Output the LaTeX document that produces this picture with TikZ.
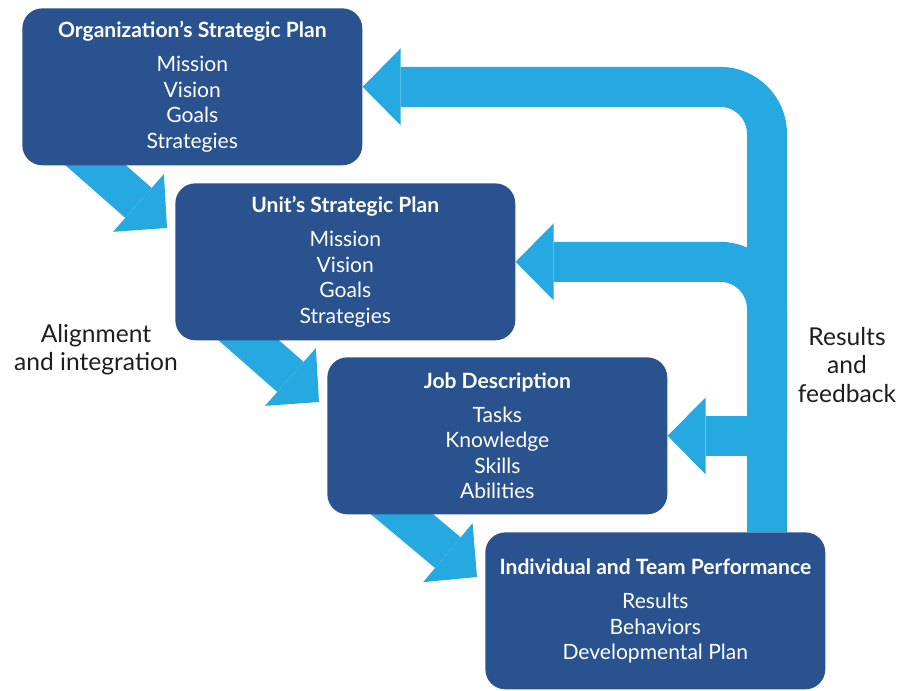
\documentclass[tikz,border=0pt]{standalone}
\usepackage{fontspec}
\setmainfont{Lato}
\usetikzlibrary{arrows.meta,positioning,backgrounds}

\definecolor{planblue}{RGB}{41,82,143}
\definecolor{feedblue}{RGB}{38,168,224}
\definecolor{notegray}{RGB}{30,30,30}

\tikzset{
  plan/.style={rectangle,rounded corners=0.4cm,fill=planblue,text=white,
    minimum width=6.8cm,minimum height=3.14cm,inner sep=0pt,align=center,
    anchor=north west,font=\fontsize{12}{14.5}\selectfont},
  fatarrow/.style={draw=feedblue,line width=0.8cm,
    -{Triangle[length=0.76cm,width=1.54cm,line width=0pt]}},
  note/.style={align=center,text=notegray,font=\fontsize{14}{16}\selectfont}
}
\newcommand{\plantitle}[1]{{\fontsize{12}{14}\selectfont\bfseries #1}\\[5pt]}

\begin{document}
\begin{tikzpicture}[x=0.02cm,y=-0.02cm]
\useasboundingbox (0,0) rectangle (901,690);

\node (org)  at (22,8)    [plan] {\plantitle{Organization’s Strategic Plan}Mission\\Vision\\Goals\\Strategies};
\node (unit) at (175,183) [plan] {\plantitle{Unit’s Strategic Plan}Mission\\Vision\\Goals\\Strategies};
\node (job)  at (327,357) [plan] {\plantitle{Job Description}Tasks\\Knowledge\\Skills\\Abilities};
\node (perf) at (485,532) [plan] {\plantitle{Individual and Team Performance}Results\\Behaviors\\Developmental Plan};

\node (align) at (96,350) [note] {Alignment\\and integration};
\node (feed)  at (847,365) [note] {Results\\and\\feedback};

\coordinate (bar) at (767,0);

\begin{scope}[on background layer]
% alignment, top down
\draw [fatarrow] ([shift={(48,-23)}]org.south west)  -- ([shift={(-8,45)}]unit.north west);
\draw [fatarrow] ([shift={(48,-23)}]unit.south west) -- ([shift={(-8,45)}]job.north west);
\draw [fatarrow] ([shift={(48,-23)}]job.south west)  -- ([shift={(-8,45)}]perf.north west);
% feedback, bottom up
\draw [fatarrow,rounded corners=0.94cm] (perf.north -| bar) |- (org.east);
\draw [fatarrow,rounded corners=0.94cm] (job.east -| bar) |- (unit.east);
\draw [fatarrow] (job.east -| bar) -- (job.east);
\end{scope}
\end{tikzpicture}
\end{document}
